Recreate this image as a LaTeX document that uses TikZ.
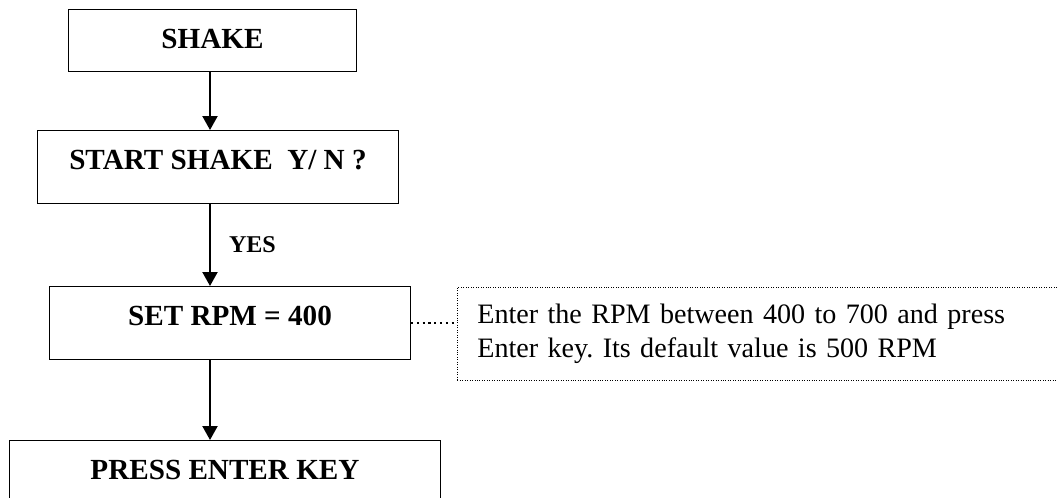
\documentclass[tikz,border=0pt]{standalone}
\usepackage{fontspec}
\setmainfont{Liberation Serif}
\usetikzlibrary{arrows.meta}
\frenchspacing

\begin{document}
\begin{tikzpicture}[x=0.02cm,y=-0.02cm,>={Triangle[length=0.28cm,width=0.3cm]},
  blk/.style={draw,line width=0.6pt,anchor=north west,inner xsep=0pt,inner ysep=0pt,
    text height=0.78cm,font=\fontsize{16.6}{20}\selectfont\bfseries},
  flow/.style={->,line width=1.2pt},
  note/.style={draw,densely dotted,line width=0.4pt,anchor=north west,align=left,
    text width=13cm,inner xsep=0.4cm,minimum height=1.86cm,
    font=\fontsize{16}{19.5}\selectfont}]
  \useasboundingbox (0,0) rectangle (1057,497);
  \clip (0,0) rectangle (1057,497);
  \coordinate (ax) at (210,0);
  % flow boxes
  \node[blk,minimum width=5.76cm,text depth=0.46cm] (shake) at (68,9) {SHAKE};
  \node[blk,minimum width=7.22cm,text depth=0.68cm] (start) at (37,130) {START SHAKE\ \ Y/ N ?};
  \node[blk,minimum width=7.22cm,text depth=0.68cm] (rpm) at (49,286) {SET RPM = 400};
  \node[blk,minimum width=8.62cm,text depth=0.68cm] (enter) at (9,440) {PRESS ENTER KEY};
  \draw[flow] (shake.south -| ax) -- (start.north -| ax);
  \draw[flow] (start.south -| ax) -- node[anchor=west,inner sep=0pt,xshift=0.36cm,
    font=\fontsize{13.7}{16}\selectfont\bfseries] {YES} (rpm.north -| ax);
  \draw[flow] (rpm.south -| ax) -- (enter.north -| ax);
  % remark
  \node[note] (info) at (457,287) {Enter the RPM between 400 to 700 and press\\
    Enter key. Its default value is 500 RPM};
  \draw[dotted,line width=1.3pt] (rpm.east) -- (rpm.east -| info.west);
\end{tikzpicture}
\end{document}
